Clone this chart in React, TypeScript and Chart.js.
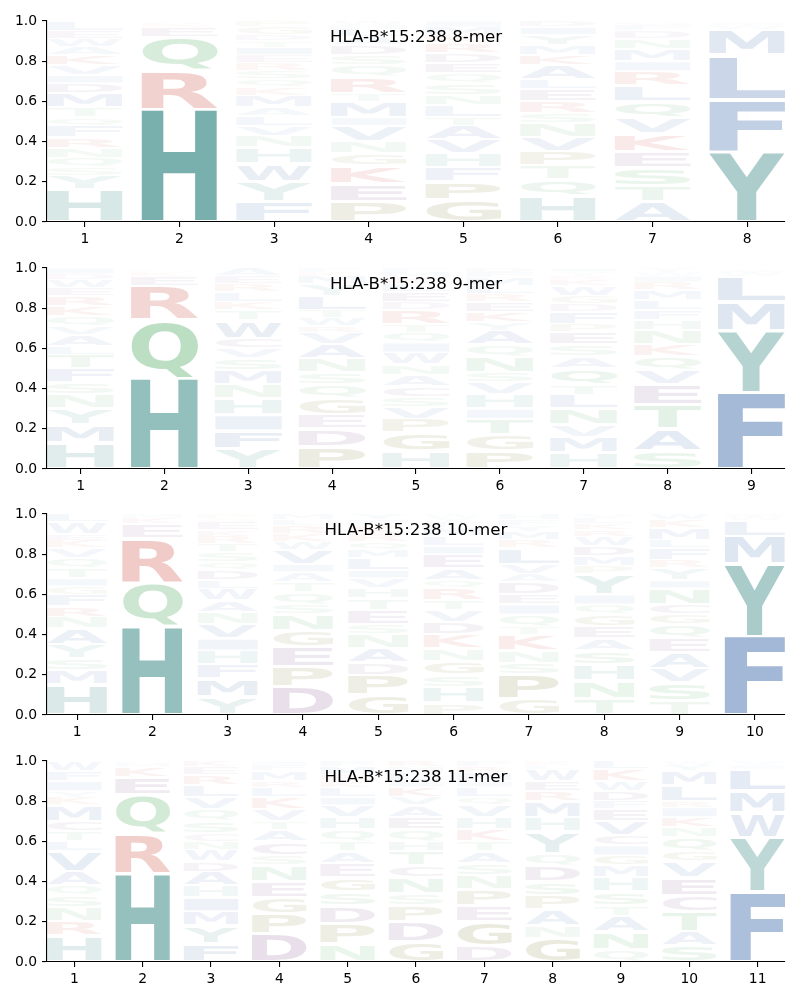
import React, { useEffect, useRef } from 'react';
import { Chart, registerables } from 'chart.js';

Chart.register(...registerables);

const ALLELE = 'HLA-B*15:238';
const LENGTHS = [8, 9, 10, 11];
const Y_TICKS = [0, 0.2, 0.4, 0.6, 0.8, 1.0];

type Stack = [string, number][];

// Letter stacks, bottom to top, for each position (height = probability)
const logo8: Stack[] = [
  [['H', .16], ['Y', .07], ['S', .04], ['Q', .05], ['N', .05], ['R', .05], ['F', .06], ['Q', .04], ['T', .05], ['M', .07], ['D', .05], ['I', .04], ['V', .05], ['K', .05], ['A', .04], ['W', .04], ['E', .04], ['L', .05]],
  [['H', .56], ['R', .19], ['Q', .17], ['E', .05], ['K', .02], ['L', .01]],
  [['F', .1], ['Y', .1], ['W', .09], ['H', .08], ['N', .06], ['V', .05], ['L', .05], ['A', .04], ['M', .06], ['K', .04], ['Q', .04], ['S', .04], ['R', .04], ['E', .04], ['I', .04], ['T', .03], ['D', .03], ['G', .04], ['P', .03]],
  [['P', .1], ['E', .09], ['K', .09], ['G', .06], ['N', .06], ['V', .08], ['I', .04], ['M', .08], ['T', .04], ['R', .08], ['Q', .06], ['S', .05], ['D', .05], ['A', .04], ['L', .04], ['H', .02], ['W', .02]],
  [['G', .11], ['P', .09], ['F', .07], ['H', .07], ['V', .07], ['A', .07], ['T', .04], ['L', .06], ['N', .05], ['S', .06], ['Q', .05], ['E', .05], ['D', .05], ['R', .05], ['K', .04], ['M', .04], ['I', .03]],
  [['H', .13], ['Q', .08], ['T', .07], ['P', .07], ['V', .07], ['N', .07], ['S', .05], ['R', .06], ['E', .06], ['L', .05], ['A', .07], ['K', .05], ['M', .05], ['Y', .05], ['I', .04], ['D', .03]],
  [['A', .1], ['T', .08], ['S', .09], ['E', .08], ['K', .09], ['V', .08], ['Q', .08], ['L', .08], ['R', .07], ['I', .05], ['M', .06], ['N', .05], ['D', .04], ['F', .03], ['G', .02]],
  [['Y', .35], ['F', .26], ['L', .22], ['M', .13], ['W', .02], ['I', .01], ['V', .01]],
];

const logo9: Stack[] = [
  [['H', .13], ['M', .09], ['Y', .08], ['N', .07], ['S', .06], ['F', .07], ['T', .07], ['L', .04], ['A', .06], ['V', .04], ['Q', .05], ['K', .05], ['R', .05], ['E', .04], ['W', .04], ['D', .03], ['I', .03]],
  [['H', .45], ['Q', .29], ['R', .17], ['E', .05], ['K', .02], ['M', .01], ['L', .01]],
  [['Y', .1], ['F', .09], ['I', .08], ['H', .08], ['N', .07], ['M', .07], ['S', .06], ['V', .05], ['C', .05], ['W', .09], ['T', .05], ['K', .04], ['L', .05], ['R', .04], ['E', .04], ['A', .04]],
  [['P', .11], ['D', .09], ['E', .07], ['G', .08], ['Q', .07], ['S', .06], ['N', .07], ['A', .07], ['V', .06], ['R', .03], ['W', .04], ['T', .04], ['L', .07], ['Y', .06], ['M', .04], ['K', .02], ['F', .02]],
  [['H', .09], ['G', .09], ['P', .07], ['V', .06], ['S', .05], ['C', .05], ['A', .06], ['N', .05], ['W', .06], ['I', .05], ['Q', .05], ['T', .04], ['R', .07], ['D', .04], ['E', .05], ['L', .04], ['K', .03], ['M', .03], ['F', .02]],
  [['P', .09], ['G', .08], ['T', .08], ['I', .05], ['H', .07], ['V', .06], ['S', .05], ['N', .08], ['Q', .06], ['A', .07], ['Y', .04], ['K', .05], ['E', .05], ['R', .04], ['L', .04], ['M', .04], ['F', .03], ['D', .02]],
  [['H', .08], ['M', .08], ['V', .06], ['N', .08], ['L', .07], ['T', .05], ['Q', .08], ['A', .06], ['S', .06], ['E', .06], ['P', .04], ['F', .06], ['D', .04], ['G', .04], ['W', .05], ['K', .03], ['R', .02], ['Y', .02], ['I', .02]],
  [['S', .09], ['A', .11], ['T', .12], ['E', .1], ['V', .07], ['Q', .07], ['K', .06], ['N', .07], ['H', .05], ['F', .05], ['L', .05], ['M', .05], ['R', .04], ['I', .03], ['W', .02], ['Y', .02]],
  [['F', .38], ['Y', .31], ['M', .14], ['L', .13], ['W', .02], ['I', .01], ['V', .01]],
];

const logo10: Stack[] = [
  [['H', .15], ['M', .07], ['S', .06], ['Y', .07], ['A', .08], ['N', .06], ['R', .05], ['F', .06], ['G', .04], ['I', .04], ['T', .05], ['Q', .05], ['V', .05], ['K', .04], ['E', .03], ['W', .06], ['L', .04]],
  [['H', .44], ['Q', .22], ['R', .22], ['E', .07], ['K', .03], ['M', .02]],
  [['Y', .09], ['M', .09], ['F', .07], ['H', .07], ['I', .06], ['V', .07], ['N', .06], ['A', .06], ['W', .06], ['L', .04], ['D', .05], ['Q', .04], ['S', .05], ['T', .04], ['R', .04], ['K', .03], ['E', .04], ['G', .02], ['P', .02]],
  [['D', .14], ['P', .1], ['E', .1], ['G', .08], ['N', .08], ['S', .05], ['Q', .06], ['T', .05], ['A', .05], ['I', .04], ['V', .07], ['W', .04], ['K', .04], ['R', .04], ['L', .03], ['M', .03]],
  [['G', .1], ['P', .1], ['D', .06], ['A', .07], ['N', .07], ['S', .05], ['E', .07], ['T', .06], ['H', .05], ['V', .05], ['I', .04], ['L', .06], ['M', .04], ['Q', .04], ['R', .04], ['K', .04], ['F', .03], ['Y', .03]],
  [['P', .06], ['H', .08], ['S', .06], ['G', .07], ['N', .06], ['K', .07], ['D', .06], ['V', .06], ['T', .05], ['R', .06], ['Q', .04], ['A', .06], ['E', .07], ['I', .04], ['L', .05], ['M', .04], ['F', .03], ['Y', .02], ['W', .02]],
  [['G', .08], ['P', .12], ['S', .06], ['N', .06], ['K', .08], ['T', .04], ['Q', .06], ['I', .05], ['E', .05], ['D', .06], ['A', .04], ['V', .05], ['L', .08], ['R', .04], ['M', .04], ['Y', .03], ['F', .03], ['H', .03]],
  [['T', .08], ['N', .09], ['H', .08], ['S', .07], ['A', .06], ['E', .06], ['G', .06], ['Q', .05], ['I', .05], ['Y', .1], ['P', .04], ['M', .05], ['D', .05], ['W', .05], ['R', .03], ['K', .03], ['L', .03], ['V', .02]],
  [['T', .07], ['S', .09], ['V', .07], ['A', .08], ['E', .07], ['Q', .07], ['G', .05], ['C', .05], ['N', .08], ['I', .04], ['Y', .06], ['R', .04], ['F', .06], ['L', .04], ['M', .06], ['K', .04], ['W', .03]],
  [['F', .39], ['Y', .36], ['M', .14], ['L', .08], ['W', .02], ['I', .01]],
];

const logo11: Stack[] = [
  [['H', .13], ['R', .07], ['N', .07], ['S', .06], ['Q', .05], ['A', .07], ['V', .1], ['L', .05], ['T', .05], ['C', .05], ['M', .08], ['K', .04], ['Y', .03], ['I', .05], ['F', .05], ['W', .05]],
  [['H', .44], ['R', .2], ['Q', .19], ['E', .09], ['K', .05], ['M', .02], ['L', .01]],
  [['F', .09], ['Y', .09], ['M', .07], ['I', .07], ['H', .06], ['A', .07], ['D', .05], ['W', .06], ['N', .04], ['C', .04], ['S', .06], ['Q', .06], ['V', .06], ['L', .06], ['R', .05], ['E', .04], ['K', .03]],
  [['D', .14], ['P', .1], ['G', .08], ['E', .08], ['N', .08], ['S', .05], ['C', .07], ['A', .06], ['T', .04], ['V', .06], ['K', .06], ['L', .05], ['R', .03], ['M', .05], ['F', .03], ['I', .02]],
  [['N', .09], ['P', .1], ['D', .09], ['S', .07], ['G', .07], ['E', .07], ['A', .06], ['T', .05], ['Q', .06], ['H', .06], ['V', .06], ['I', .04], ['L', .05], ['K', .03], ['R', .03], ['M', .04], ['F', .03]],
  [['G', .1], ['D', .1], ['P', .08], ['S', .06], ['N', .08], ['C', .06], ['T', .07], ['H', .05], ['Q', .06], ['E', .06], ['A', .06], ['V', .04], ['K', .05], ['I', .03], ['L', .04], ['M', .03], ['R', .03]],
  [['D', .08], ['G', .12], ['E', .08], ['P', .08], ['N', .07], ['S', .06], ['A', .06], ['T', .05], ['K', .06], ['H', .06], ['V', .06], ['Q', .04], ['L', .05], ['I', .03], ['M', .04], ['R', .03], ['F', .03]],
  [['G', .12], ['N', .06], ['A', .08], ['P', .07], ['S', .07], ['D', .08], ['Q', .06], ['Y', .11], ['H', .07], ['M', .08], ['R', .05], ['E', .05], ['W', .06], ['L', .02], ['K', .02]],
  [['Q', .06], ['N', .09], ['A', .08], ['T', .05], ['S', .07], ['H', .07], ['M', .06], ['G', .05], ['I', .05], ['C', .05], ['V', .07], ['E', .06], ['F', .04], ['D', .05], ['W', .05], ['K', .06], ['L', .04]],
  [['S', .08], ['A', .07], ['T', .1], ['C', .08], ['E', .09], ['V', .08], ['G', .05], ['Q', .07], ['N', .05], ['K', .05], ['I', .05], ['R', .03], ['L', .08], ['M', .07], ['Y', .03], ['W', .02]],
  [['F', .35], ['Y', .27], ['W', .12], ['M', .11], ['L', .11], ['I', .02], ['V', .02]],
];

const LOGOS: Stack[][] = [logo8, logo9, logo10, logo11];

// Residue groups and their base colours
const GROUP_COLORS: Record<string, [number, number, number]> = {
  teal: [31, 122, 116],
  blue: [33, 85, 158],
  red: [190, 35, 20],
  green: [40, 150, 60],
  purple: [99, 43, 111],
  olive: [95, 95, 5],
};
const GROUP_LETTERS: Record<string, string> = {
  teal: 'HY',
  blue: 'FLMWAVI',
  red: 'RK',
  green: 'QNST',
  purple: 'DEC',
  olive: 'PG',
};

function colorOf(ch: string): [number, number, number] {
  for (const g of Object.keys(GROUP_LETTERS)) {
    if (GROUP_LETTERS[g].includes(ch)) return GROUP_COLORS[g];
  }
  return [120, 120, 120];
}

const logoPlugin = {
  id: 'logoLetters',
  afterDatasetsDraw(chart: any, _args: any, opts: any) {
    const { ctx, chartArea } = chart;
    const x = chart.scales.x;
    const y = chart.scales.y;
    const stacks: Stack[] = opts.stacks || [];
    ctx.save();
    ctx.font = 'bold 100px "DejaVu Sans"';
    ctx.textAlign = 'left';
    ctx.textBaseline = 'alphabetic';
    stacks.forEach((stack, i) => {
      const pos = i + 1;
      let base = 0;
      stack.forEach(([ch, h]) => {
        const pad = Math.min(0.009, h * 0.1);
        const x0 = x.getPixelForValue(pos - 0.4);
        const x1 = x.getPixelForValue(pos + 0.4);
        const yb = y.getPixelForValue(base + pad);
        const yt = y.getPixelForValue(base + h - pad);
        base += h;
        const m = ctx.measureText(ch);
        const gw = m.actualBoundingBoxLeft + m.actualBoundingBoxRight;
        const gh = m.actualBoundingBoxAscent + m.actualBoundingBoxDescent;
        const [r, g, b] = colorOf(ch);
        const a = Math.min(1, h * 1.07);
        ctx.fillStyle = `rgba(${r},${g},${b},${a})`;
        ctx.save();
        ctx.translate(x0, yt);
        ctx.scale((x1 - x0) / gw, (yb - yt) / gh);
        ctx.fillText(ch, m.actualBoundingBoxLeft, m.actualBoundingBoxAscent);
        ctx.restore();
      });
    });
    ctx.font = '16.67px "DejaVu Sans"';
    ctx.fillStyle = '#000';
    ctx.textAlign = 'center';
    ctx.fillText(opts.title, (chartArea.left + chartArea.right) / 2, chartArea.top + 21);
    ctx.restore();
  },
};

function LogoPanel({ stacks, title, top }: { stacks: Stack[]; title: string; top: number }) {
  const ref = useRef<HTMLCanvasElement | null>(null);
  useEffect(() => {
    if (!ref.current) return;
    const n = stacks.length;
    const positions = stacks.map((_, i) => i + 1);
    const tickFont = { family: '"DejaVu Sans"', size: 13.9 };
    const chart = new Chart(ref.current, {
      type: 'scatter',
      data: { datasets: [{ data: [], pointRadius: 0 }] },
      options: {
        animation: false,
        responsive: false,
        events: [],
        layout: { padding: { top: 21, right: 15, left: 0, bottom: 0 } },
        plugins: {
          legend: { display: false },
          tooltip: { enabled: false },
          logoLetters: { stacks, title },
        } as any,
        scales: {
          x: {
            type: 'linear',
            min: 0.6,
            max: n + 0.4,
            z: 1,
            afterBuildTicks: (scale: any) => {
              scale.ticks = positions.map((v) => ({ value: v }));
            },
            afterFit: (scale: any) => {
              scale.height = 25;
            },
            ticks: { color: '#000', font: tickFont, padding: 4, maxRotation: 0, autoSkip: false, callback: (v: any) => String(v) },
            grid: { display: true, drawOnChartArea: false, drawTicks: true, tickLength: 5, color: '#000', lineWidth: 1.1 },
            border: { display: true, color: '#000', width: 1.1 },
          },
          y: {
            type: 'linear',
            min: 0,
            max: 1,
            z: 1,
            afterBuildTicks: (scale: any) => {
              scale.ticks = Y_TICKS.map((v) => ({ value: v }));
            },
            afterFit: (scale: any) => {
              scale.width = 47;
            },
            ticks: { color: '#000', font: tickFont, padding: 5, callback: (v: any) => Number(v).toFixed(1) },
            grid: { display: true, drawOnChartArea: false, drawTicks: true, tickLength: 5, color: '#000', lineWidth: 1.1 },
            border: { display: true, color: '#000', width: 1.1 },
          },
        },
      },
      plugins: [logoPlugin],
    } as any);
    return () => chart.destroy();
  }, [stacks, title]);
  return (
    <div style={{ position: 'absolute', left: 0, top, width: 800, height: 247 }}>
      <canvas ref={ref} width={800} height={247} style={{ display: 'block' }} />
    </div>
  );
}

const PANEL_TOPS = [0, 247, 493, 740];

export default function App() {
  return (
    <div style={{ position: 'absolute', left: 0, top: 0, width: 800, height: 1000, background: '#fff' }}>
      {LOGOS.map((stacks, i) => (
        <LogoPanel key={i} stacks={stacks} title={`${ALLELE} ${LENGTHS[i]}-mer`} top={PANEL_TOPS[i]} />
      ))}
    </div>
  );
}
